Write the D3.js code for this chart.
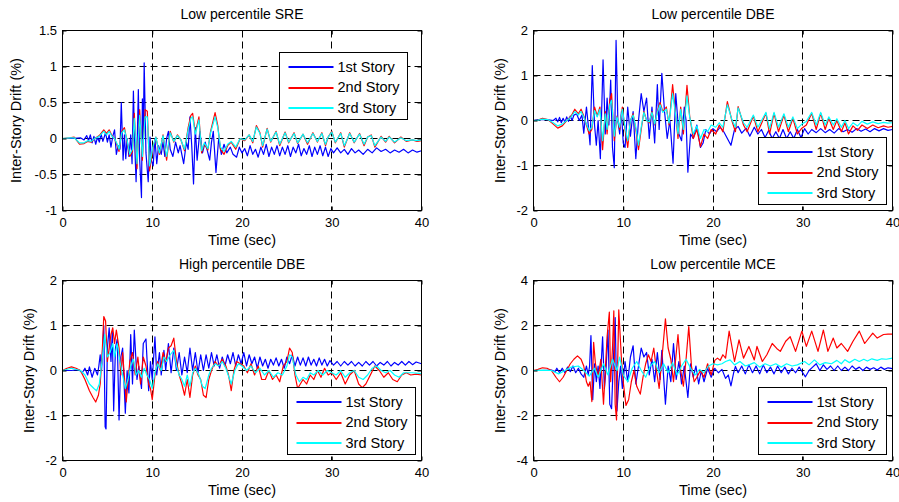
<!DOCTYPE html>
<html>
<head>
<meta charset="utf-8">
<script src="https://cdn.jsdelivr.net/npm/d3@7"></script>
<style>
  html, body { margin: 0; padding: 0; background: #fff; }
  svg { display: block; font-family: "Liberation Sans", Arial, sans-serif; }
</style>
</head>
<body>
<svg id="chart" width="899" height="502"></svg>
<script>
// ---------------- DATA ----------------
const xTicks = [0, 10, 20, 30, 40];
const seriesNames = ["1st Story", "2nd Story", "3rd Story"];
const titles = ["Low percentile SRE", "Low percentile DBE", "High percentile DBE", "Low percentile MCE"];
const sreTicks = [-1, -0.5, 0, 0.5, 1, 1.5];
const dbeLoTicks = [-2, -1, 0, 1, 2];
const dbeHiTicks = [-2, -1, 0, 1, 2];
const mceTicks = [-4, -2, 0, 2, 4];

// Low percentile SRE  ([time s, drift %])
const sreS1 = [[0,0],[1,0],[2,0.01],[2.4,-0.02],[2.7,0.04],[2.9,-0.03],[3.1,0.05],[3.3,-0.06],[3.5,0.03],[3.7,-0.08],[3.9,0.02],[4.1,-0.05],[4.3,0.06],[4.5,-0.04],[4.8,0.08],[5.0,-0.05],[5.2,0.05],[5.4,-0.12],[5.6,0.03],[5.8,0.12],[6.0,-0.22],[6.2,-0.1],[6.4,-0.15],[6.55,0.5],[6.75,-0.3],[6.9,0.05],[7.05,-0.28],[7.2,0.0],[7.4,-0.25],[7.6,0.05],[7.75,-0.35],[7.9,0.66],[8.05,-0.1],[8.2,-0.6],[8.35,0.1],[8.45,0.68],[8.6,-0.3],[8.8,-0.82],[8.9,0.55],[9.0,0.0],[9.1,1.05],[9.3,-0.2],[9.55,-0.6],[9.75,0.02],[9.9,-0.3],[10.1,-0.38],[10.3,0.0],[10.5,-0.35],[10.7,-0.1],[11.0,-0.22],[11.2,-0.05],[11.4,-0.25],[11.6,0.0],[11.8,0.1],[12.0,-0.15],[12.3,-0.25],[12.6,-0.05],[12.9,-0.2],[13.1,-0.1],[13.5,-0.35],[13.8,-0.05],[14.0,-0.15],[14.2,0.3],[14.4,-0.1],[14.6,-0.63],[14.8,0.15],[15.0,-0.3],[15.3,0.1],[15.6,-0.2],[15.9,-0.05],[16.1,-0.15],[16.4,-0.3],[16.6,-0.05],[16.8,0.1],[17.1,-0.47],[17.4,0.0],[17.7,-0.22],[18.0,-0.08],[18.3,-0.2],[18.7,-0.12],[19.0,-0.22],[19.4,-0.26],[19.7,-0.12],[20.0,-0.2],[20.3,-0.14],[20.6,-0.24],[20.9,-0.1],[21.2,-0.22],[21.5,-0.15],[21.8,-0.26],[22.1,-0.12],[22.4,-0.22],[22.7,-0.08],[23.0,-0.25],[23.3,-0.12],[23.6,-0.22],[23.9,-0.1],[24.2,-0.24],[24.5,-0.12],[24.8,-0.22],[25.1,-0.1],[25.4,-0.25],[25.7,-0.12],[26.0,-0.2],[26.3,-0.08],[26.6,-0.24],[26.9,-0.14],[27.2,-0.22],[27.5,-0.1],[27.8,-0.25],[28.1,-0.12],[28.4,-0.22],[28.7,-0.1],[29.0,-0.24],[29.3,-0.12],[29.6,-0.25],[29.9,-0.14],[30.2,-0.2],[30.6,-0.13],[31.0,-0.2],[31.4,-0.15],[31.8,-0.22],[32.2,-0.14],[32.6,-0.2],[33.0,-0.16],[33.5,-0.22],[34.0,-0.15],[34.5,-0.2],[35.0,-0.13],[35.5,-0.18],[36.0,-0.15],[36.5,-0.2],[37.0,-0.16],[37.5,-0.19],[38.0,-0.15],[38.5,-0.2],[39.0,-0.16],[39.5,-0.19],[40,-0.17]];
const sreS2 = [[0,0],[0.8,0.01],[1.3,0.02],[1.9,-0.08],[2.4,-0.07],[2.8,-0.04],[3.2,-0.05],[3.6,0.0],[4.1,0.04],[4.6,0.12],[4.9,0.07],[5.2,0.12],[5.5,0.04],[5.8,0.0],[6.1,-0.1],[6.3,-0.18],[6.6,0.1],[6.9,0.15],[7.2,-0.05],[7.5,-0.25],[7.8,-0.18],[8.0,0.35],[8.3,-0.42],[8.6,0.4],[8.9,-0.3],[9.2,0.4],[9.45,0.38],[9.7,-0.45],[10.1,-0.12],[10.4,0.02],[10.8,-0.22],[11.2,0.05],[11.6,-0.3],[12.0,0.1],[12.4,-0.05],[12.8,0.05],[13.2,-0.02],[13.6,-0.17],[14.0,0.15],[14.3,0.32],[14.5,0.35],[14.8,0.08],[15.2,0.3],[15.5,-0.2],[15.8,-0.08],[16.2,-0.16],[16.5,0.1],[17.0,0.36],[17.3,0.18],[17.6,-0.15],[18.0,-0.22],[18.4,-0.1],[18.8,-0.05],[19.3,-0.15],[19.8,0.0],[20.3,-0.03],[20.8,0.05],[21.2,-0.06],[21.6,0.18],[22.0,0.08],[22.3,-0.12],[22.8,0.14],[23.2,-0.05],[23.8,0.1],[24.2,-0.1],[24.8,0.09],[25.2,-0.06],[25.8,0.08],[26.2,-0.07],[26.8,0.06],[27.3,-0.08],[27.9,0.08],[28.4,-0.05],[28.9,0.08],[29.3,-0.1],[29.6,0.02],[30.0,0.1],[30.4,-0.06],[31.0,0.08],[31.4,-0.12],[32.0,0.08],[32.5,-0.06],[33.1,0.07],[33.6,-0.1],[34.0,0.02],[34.4,0.05],[34.8,-0.12],[35.5,0.03],[36.0,-0.05],[36.4,0.03],[37.0,-0.06],[37.7,0.02],[38.3,-0.04],[39.0,-0.02],[39.5,-0.04],[40,-0.03]];
const sreS3 = [[0,0],[0.8,0.01],[1.3,0.01],[1.9,-0.06],[2.4,-0.06],[2.8,-0.03],[3.2,-0.04],[3.6,0.0],[4.1,0.03],[4.6,0.1],[4.9,0.05],[5.2,0.1],[5.5,0.03],[5.8,0.0],[6.1,-0.08],[6.3,-0.15],[6.6,0.08],[6.9,0.12],[7.2,-0.03],[7.5,-0.22],[7.8,-0.15],[8.0,0.28],[8.3,-0.35],[8.6,0.32],[8.9,-0.25],[9.2,0.3],[9.45,0.3],[9.7,-0.38],[10.1,-0.1],[10.4,0.02],[10.8,-0.2],[11.2,0.04],[11.6,-0.25],[12.0,0.08],[12.4,-0.04],[12.8,0.04],[13.2,-0.02],[13.6,-0.15],[14.0,0.12],[14.3,0.28],[14.5,0.3],[14.8,0.06],[15.2,0.26],[15.5,-0.17],[15.8,-0.06],[16.2,-0.14],[16.5,0.08],[17.0,0.3],[17.3,0.15],[17.6,-0.12],[18.0,-0.18],[18.4,-0.08],[18.8,-0.04],[19.3,-0.12],[19.8,0.0],[20.3,-0.02],[20.8,0.05],[21.2,-0.04],[21.6,0.16],[22.0,0.07],[22.3,-0.1],[22.8,0.13],[23.2,-0.04],[23.8,0.09],[24.2,-0.08],[24.8,0.08],[25.2,-0.05],[25.8,0.07],[26.2,-0.06],[26.8,0.06],[27.3,-0.06],[27.9,0.07],[28.4,-0.04],[28.9,0.07],[29.3,-0.08],[29.6,0.02],[30.0,0.09],[30.4,-0.05],[31.0,0.07],[31.4,-0.1],[32.0,0.07],[32.5,-0.05],[33.1,0.06],[33.6,-0.08],[34.0,0.02],[34.4,0.04],[34.8,-0.1],[35.5,0.02],[36.0,-0.04],[36.4,0.02],[37.0,-0.05],[37.7,0.01],[38.3,-0.03],[39.0,-0.02],[39.5,-0.03],[40,-0.02]];

// Low percentile DBE
const dbeLoS1 = [[0,0],[0.5,0.02],[1.5,0.02],[2.2,0.0],[2.5,0.05],[2.7,-0.03],[2.9,0.07],[3.1,-0.05],[3.3,0.05],[3.5,-0.04],[3.7,0.08],[3.9,-0.02],[4.1,0.1],[4.3,0.0],[4.5,0.12],[4.8,0.15],[5.1,0.0],[5.4,0.12],[5.6,-0.28],[5.9,0.3],[6.1,-0.1],[6.3,-0.54],[6.55,1.22],[6.8,-0.1],[7.0,-0.55],[7.2,0.0],[7.45,-0.85],[7.75,1.35],[8.0,-0.3],[8.2,0.5],[8.4,-0.1],[8.6,0.9],[8.8,-0.6],[9.0,-1.05],[9.2,1.78],[9.4,0.0],[9.6,-0.3],[9.8,0.2],[10.0,-0.5],[10.2,-0.6],[10.5,0.3],[10.8,-0.35],[11.1,0.2],[11.4,-0.85],[11.7,0.0],[12.0,0.6],[12.3,0.2],[12.6,0.5],[12.9,-0.4],[13.2,0.3],[13.5,-0.5],[13.8,0.8],[14.0,-0.2],[14.3,1.05],[14.6,0.2],[14.9,-0.4],[15.2,0.0],[15.55,-0.95],[15.85,0.6],[16.2,-0.3],[16.5,-0.45],[16.8,0.3],[17.0,0.0],[17.2,-1.15],[17.5,-0.3],[17.8,-0.4],[18.2,-0.1],[18.6,-0.6],[18.9,-0.5],[19.2,-0.2],[19.6,-0.3],[20.0,-0.18],[20.4,-0.25],[20.8,-0.15],[21.2,-0.25],[21.6,-0.4],[22.0,-0.55],[22.4,-0.2],[22.8,-0.13],[23.2,-0.28],[23.7,-0.17],[24.1,-0.35],[24.6,-0.15],[25.0,-0.3],[25.4,-0.2],[25.8,-0.38],[26.2,-0.22],[26.6,-0.4],[27.0,-0.25],[27.4,-0.4],[27.8,-0.2],[28.2,-0.4],[28.6,-0.25],[29.0,-0.4],[29.4,-0.2],[29.8,-0.38],[30.2,-0.18],[30.6,-0.3],[31.0,-0.2],[31.5,-0.27],[32.0,-0.18],[32.5,-0.27],[33.0,-0.2],[33.5,-0.28],[34.0,-0.18],[34.5,-0.25],[35.0,-0.2],[35.5,-0.26],[36.0,-0.18],[36.5,-0.24],[37.0,-0.19],[37.5,-0.25],[38.0,-0.18],[38.5,-0.23],[39.0,-0.18],[39.5,-0.22],[40,-0.2]];
const dbeLoS2 = [[0,0],[0.5,0.01],[1.0,0.05],[1.6,0.02],[2.2,-0.08],[2.7,-0.17],[3.2,-0.12],[3.7,0.0],[4.2,0.1],[4.6,0.25],[5.0,0.15],[5.3,0.25],[5.6,0.1],[5.9,-0.1],[6.2,-0.3],[6.5,-0.2],[6.8,0.3],[7.1,0.1],[7.4,0.3],[7.7,-0.65],[8.0,0.2],[8.2,-0.3],[8.5,0.45],[8.7,0.6],[9.0,-0.45],[9.3,0.1],[9.6,-0.2],[9.9,0.3],[10.2,-0.2],[10.5,-0.6],[10.8,0.0],[11.1,0.15],[11.4,-0.2],[11.7,-0.65],[12.0,-0.2],[12.3,0.2],[12.6,0.0],[12.9,-0.05],[13.2,0.2],[13.5,-0.1],[13.8,0.2],[14.1,0.4],[14.4,0.2],[14.8,0.3],[15.1,-0.1],[15.5,0.8],[15.8,0.2],[16.1,-0.4],[16.4,0.3],[16.7,-0.3],[17.1,0.78],[17.4,0.1],[17.8,-0.4],[18.2,-0.2],[18.6,-0.58],[19.0,-0.3],[19.4,-0.4],[19.8,-0.2],[20.3,-0.3],[20.7,-0.1],[21.1,-0.25],[21.6,0.42],[22.1,0.0],[22.5,-0.25],[22.8,0.31],[23.4,-0.1],[23.8,-0.25],[24.5,0.1],[25.0,-0.25],[25.9,0.16],[26.3,-0.3],[26.8,0.16],[27.3,-0.25],[27.9,0.12],[28.4,-0.25],[28.9,0.05],[29.4,-0.3],[29.9,-0.17],[30.4,-0.1],[31.0,0.16],[31.5,-0.2],[32.0,0.16],[32.5,-0.2],[32.9,0.05],[33.4,-0.2],[33.8,0.0],[34.3,-0.25],[34.7,-0.05],[35.1,-0.3],[35.6,-0.12],[36.1,-0.22],[36.6,-0.1],[37.2,-0.18],[37.8,-0.1],[38.4,-0.16],[39.0,-0.12],[39.5,-0.15],[40,-0.13]];
const dbeLoS3 = [[0,0],[0.5,0.01],[1.0,0.03],[1.6,0.02],[2.2,-0.05],[2.7,-0.12],[3.2,-0.08],[3.7,0.0],[4.2,0.08],[4.6,0.2],[5.0,0.12],[5.3,0.2],[5.6,0.08],[5.9,-0.08],[6.2,-0.22],[6.5,-0.15],[6.8,0.22],[7.1,0.08],[7.4,0.25],[7.7,-0.45],[8.0,0.15],[8.2,-0.2],[8.5,0.35],[8.7,0.45],[9.0,-0.35],[9.3,0.08],[9.6,-0.15],[9.9,0.25],[10.2,-0.15],[10.5,-0.45],[10.8,0.0],[11.1,0.12],[11.4,-0.15],[11.7,-0.55],[12.0,-0.15],[12.3,0.18],[12.6,0.0],[12.9,-0.03],[13.2,0.18],[13.5,-0.08],[13.8,0.18],[14.1,0.35],[14.4,0.18],[14.8,0.25],[15.1,-0.06],[15.5,0.6],[15.8,0.18],[16.1,-0.3],[16.4,0.25],[16.7,-0.2],[17.1,0.55],[17.4,0.08],[17.8,-0.3],[18.2,-0.12],[18.6,-0.4],[19.0,-0.2],[19.4,-0.25],[19.8,-0.1],[20.3,-0.15],[20.7,-0.05],[21.1,-0.15],[21.6,0.35],[22.1,0.02],[22.5,-0.15],[22.8,0.28],[23.4,-0.05],[23.8,-0.15],[24.5,0.12],[25.0,-0.15],[25.9,0.18],[26.3,-0.18],[26.8,0.18],[27.3,-0.15],[27.9,0.15],[28.4,-0.15],[28.9,0.08],[29.4,-0.18],[29.9,-0.08],[30.4,-0.02],[31.0,0.18],[31.5,-0.1],[32.0,0.18],[32.5,-0.1],[32.9,0.08],[33.4,-0.1],[33.8,0.04],[34.3,-0.15],[34.7,0.0],[35.1,-0.18],[35.6,-0.05],[36.1,-0.12],[36.6,-0.02],[37.2,-0.08],[37.8,-0.03],[38.4,-0.07],[39.0,-0.04],[39.5,-0.06],[40,-0.05]];

// High percentile DBE
const dbeHiS1 = [[0,0],[1.0,0.0],[1.8,0.02],[2.2,-0.05],[2.5,0.05],[2.8,-0.1],[3.0,0.08],[3.3,-0.15],[3.6,0.05],[3.9,-0.1],[4.05,0.1],[4.2,0.35],[4.35,0.0],[4.6,1.0],[4.75,-1.25],[4.85,-1.3],[5.0,0.5],[5.2,0.95],[5.4,0.2],[5.55,0.85],[5.7,-0.9],[5.9,0.5],[6.1,0.7],[6.3,-1.1],[6.5,0.3],[6.7,0.5],[7.0,-0.95],[7.2,0.0],[7.4,-0.5],[7.6,0.8],[7.8,-0.3],[8.0,0.9],[8.3,-0.2],[8.5,0.1],[8.8,-0.4],[9.0,0.6],[9.3,0.7],[9.6,-0.45],[9.8,0.2],[10.0,-0.2],[10.3,0.75],[10.5,-0.1],[10.8,0.4],[11.0,-0.1],[11.3,0.45],[11.5,0.0],[11.8,0.6],[12.1,-0.05],[12.4,0.5],[12.7,0.0],[13.0,0.4],[13.3,-0.1],[13.6,0.3],[13.9,-0.05],[14.2,0.5],[14.5,0.0],[14.8,0.4],[15.1,-0.05],[15.4,0.35],[15.7,0.0],[16.0,0.35],[16.3,0.05],[16.6,0.4],[16.9,0.1],[17.2,0.35],[17.5,0.05],[17.8,0.3],[18.1,0.1],[18.4,0.35],[18.7,0.15],[19.0,0.4],[19.3,0.1],[19.6,0.35],[19.9,0.15],[20.2,0.4],[20.5,0.1],[20.8,0.35],[21.1,0.15],[21.4,0.3],[21.7,0.05],[22.0,0.3],[22.3,0.1],[22.6,0.25],[22.9,0.05],[23.2,0.25],[23.5,0.12],[23.8,0.28],[24.1,0.1],[24.4,0.25],[24.7,0.05],[25.0,0.3],[25.3,0.15],[25.6,0.35],[25.9,0.1],[26.2,0.3],[26.5,0.12],[26.8,0.28],[27.1,0.1],[27.4,0.3],[27.7,0.12],[28.0,0.25],[28.3,0.1],[28.6,0.28],[28.9,0.12],[29.2,0.25],[29.5,0.1],[29.8,0.22],[30.2,0.12],[30.6,0.2],[31.0,0.1],[31.4,0.2],[31.8,0.12],[32.2,0.2],[32.6,0.1],[33.0,0.18],[33.4,0.1],[33.8,0.2],[34.2,0.12],[34.6,0.2],[35.0,0.1],[35.4,0.18],[35.8,0.12],[36.2,0.2],[36.6,0.1],[37.0,0.18],[37.4,0.12],[37.8,0.2],[38.2,0.12],[38.6,0.2],[39.0,0.13],[39.4,0.19],[40,0.15]];
const dbeHiS2 = [[0,0],[0.5,0.05],[1.0,0.08],[1.5,0.05],[2.0,0.0],[2.5,-0.2],[3.0,-0.45],[3.4,-0.6],[3.7,-0.7],[4.0,-0.55],[4.2,-0.3],[4.4,0.3],[4.6,1.2],[4.8,1.1],[5.0,0.2],[5.2,0.5],[5.4,0.8],[5.6,0.95],[5.8,0.6],[6.0,0.9],[6.3,0.5],[6.5,-0.1],[6.7,0.4],[7.1,-0.7],[7.5,0.2],[7.8,0.4],[8.1,-0.1],[8.4,0.3],[8.7,-0.3],[9.0,0.3],[9.3,0.1],[9.6,-0.3],[9.8,-0.4],[10.0,-0.65],[10.3,-0.1],[10.6,0.2],[10.9,0.0],[11.2,0.4],[11.5,0.2],[11.8,0.5],[12.1,0.55],[12.4,0.72],[12.7,0.2],[13.0,-0.1],[13.3,-0.3],[13.6,-0.55],[13.9,-0.2],[14.2,-0.6],[14.5,-0.1],[14.8,0.1],[15.1,-0.1],[15.4,-0.2],[15.7,-0.55],[16.0,-0.6],[16.3,-0.2],[16.6,0.0],[17.0,0.2],[17.4,0.1],[17.8,0.25],[18.2,0.1],[18.5,-0.1],[18.8,-0.45],[19.1,0.0],[19.4,0.2],[19.8,0.15],[20.2,0.1],[20.6,-0.05],[21.0,0.15],[21.4,-0.1],[21.8,0.1],[22.2,-0.2],[22.6,-0.2],[23.0,0.0],[23.4,-0.2],[23.8,-0.1],[24.2,-0.25],[24.6,0.1],[25.0,0.2],[25.3,0.5],[25.6,0.4],[25.9,-0.1],[26.2,-0.4],[26.5,-0.3],[26.8,-0.2],[27.2,-0.3],[27.6,-0.1],[28.0,-0.2],[28.4,0.0],[28.8,-0.15],[29.2,0.05],[29.6,-0.1],[30.0,-0.05],[30.5,-0.2],[31.0,-0.05],[31.5,-0.3],[32.0,-0.1],[32.5,0.0],[33.0,-0.3],[33.4,-0.38],[33.8,-0.3],[34.3,-0.1],[34.8,0.1],[35.3,0.0],[35.8,-0.15],[36.3,-0.05],[36.8,-0.2],[37.3,-0.25],[37.8,-0.1],[38.3,-0.05],[38.8,-0.1],[39.4,-0.08],[40,-0.1]];
const dbeHiS3 = [[0,0],[1.0,0.05],[2.0,0.0],[2.5,-0.1],[3.0,-0.3],[3.5,-0.4],[3.8,-0.45],[4.1,-0.3],[4.4,0.2],[4.7,0.8],[5.0,0.3],[5.3,0.4],[5.6,0.6],[5.8,0.3],[6.1,0.6],[6.4,0.2],[6.7,-0.1],[7.0,-0.4],[7.3,-0.2],[7.6,0.1],[7.9,0.25],[8.2,-0.1],[8.5,0.0],[8.8,-0.15],[9.1,0.05],[9.4,-0.1],[9.7,-0.2],[10.0,-0.4],[10.3,-0.05],[10.6,0.15],[11.0,0.0],[11.3,0.3],[11.6,0.2],[12.0,0.35],[12.4,0.45],[12.7,0.1],[13.0,-0.1],[13.3,-0.2],[13.6,-0.35],[13.9,-0.1],[14.2,-0.35],[14.5,-0.05],[14.8,0.05],[15.2,-0.1],[15.6,-0.35],[15.9,-0.4],[16.3,-0.1],[16.6,0.05],[17.0,0.15],[17.4,0.1],[17.8,0.2],[18.2,0.05],[18.8,-0.3],[19.2,0.0],[19.6,0.15],[20.0,0.1],[20.5,0.0],[21.0,0.1],[21.5,-0.05],[22.0,0.05],[22.5,-0.1],[23.0,0.0],[23.5,-0.15],[24.0,-0.05],[24.5,-0.1],[25.0,0.1],[25.3,0.35],[25.6,0.3],[26.0,-0.1],[26.4,-0.25],[26.8,-0.15],[27.2,-0.2],[27.6,-0.05],[28.0,-0.1],[28.5,0.0],[29.0,-0.1],[29.5,0.0],[30.0,-0.05],[30.5,-0.1],[31.0,0.0],[31.5,-0.15],[32.0,-0.05],[32.5,0.0],[33.0,-0.15],[33.5,-0.2],[34.0,-0.1],[34.5,0.05],[35.0,0.1],[35.5,0.0],[36.0,-0.05],[36.5,0.0],[37.0,-0.1],[37.5,-0.15],[38.0,-0.05],[39.0,-0.05],[40,-0.07]];

// Low percentile MCE
const mceS1 = [[0,0],[1.0,0.0],[2.0,0.02],[2.4,-0.05],[2.6,0.1],[2.9,-0.1],[3.2,0.1],[3.5,-0.1],[3.8,0.15],[4.1,-0.05],[4.4,0.2],[4.7,-0.1],[5.0,0.1],[5.3,-0.15],[5.6,-0.3],[5.9,0.2],[6.1,-0.2],[6.25,0.2],[6.4,1.55],[6.6,-1.3],[6.8,0.3],[7.0,-0.5],[7.2,0.2],[7.4,-0.8],[7.7,1.5],[7.9,-0.8],[8.1,0.2],[8.3,1.8],[8.5,-1.5],[8.7,-1.7],[8.9,0.5],[9.1,2.35],[9.3,-1.8],[9.5,-0.5],[9.7,0.2],[9.9,-0.8],[10.2,0.4],[10.5,-0.5],[10.8,0.6],[11.1,1.1],[11.4,-0.6],[11.7,0.2],[12.0,1.0],[12.3,0.6],[12.6,0.8],[12.9,-0.2],[13.2,0.5],[13.5,-0.5],[13.8,0.8],[14.1,-0.4],[14.3,0.9],[14.7,-1.5],[15.0,0.2],[15.3,-0.5],[15.6,1.2],[15.9,-0.4],[16.2,0.4],[16.5,-0.6],[16.8,0.2],[17.2,-1.2],[17.5,0.3],[17.8,-0.3],[18.1,0.2],[18.4,-0.6],[18.7,0.0],[19.0,-0.5],[19.4,0.1],[19.8,-0.3],[20.2,0.1],[20.6,-0.1],[21.0,0.05],[21.4,-0.35],[21.7,-0.2],[22.0,-0.68],[22.3,-0.1],[22.5,0.18],[22.8,-0.1],[23.2,0.2],[23.6,-0.15],[24.0,0.25],[24.4,-0.1],[24.8,0.2],[25.2,-0.15],[25.6,0.25],[26.0,-0.1],[26.4,0.15],[26.8,-0.15],[27.2,0.2],[27.6,-0.1],[28.0,0.15],[28.4,-0.15],[28.8,0.1],[29.2,-0.1],[29.6,0.15],[30.0,-0.1],[30.3,-0.28],[30.7,0.0],[31.1,0.15],[31.5,0.3],[31.9,0.0],[32.3,0.25],[32.7,0.05],[33.1,0.2],[33.5,0.0],[33.9,0.2],[34.3,0.0],[34.7,0.15],[35.1,0.0],[35.5,0.2],[35.9,0.05],[36.3,0.15],[36.7,0.0],[37.1,0.15],[37.5,0.05],[37.9,0.12],[38.3,0.02],[38.7,0.15],[39.1,0.05],[39.5,0.12],[40,0.08]];
const mceS2 = [[0,0],[0.5,0.05],[1.0,0.12],[1.5,0.1],[2.0,0.0],[2.5,-0.3],[2.9,-0.5],[3.3,-0.3],[3.7,0.0],[4.1,0.3],[4.5,0.5],[4.9,0.65],[5.3,0.5],[5.6,0.2],[5.9,-0.5],[6.1,-0.7],[6.3,-0.5],[6.5,-1.38],[6.7,1.25],[6.9,0.3],[7.2,-0.3],[7.5,0.5],[7.8,-1.5],[8.0,0.0],[8.2,1.5],[8.45,2.6],[8.6,-0.5],[8.8,1.0],[8.95,2.65],[9.1,-1.5],[9.25,-2.2],[9.5,2.7],[9.8,0.5],[10.0,-0.5],[10.3,-1.55],[10.6,-1.3],[10.9,-0.5],[11.2,0.0],[11.5,-0.7],[11.9,-1.05],[12.2,-0.3],[12.5,0.3],[12.8,0.7],[13.1,0.4],[13.4,1.0],[13.7,0.0],[14.0,-0.8],[14.3,0.5],[14.7,2.3],[15.0,1.0],[15.3,0.5],[15.6,-0.5],[16.1,1.6],[16.4,0.0],[16.7,-0.7],[17.0,0.5],[17.3,1.95],[17.6,0.2],[17.9,-0.5],[18.2,-0.3],[18.6,0.0],[19.0,-0.3],[19.4,0.3],[19.8,-0.2],[20.2,0.45],[20.5,0.55],[20.8,0.45],[21.1,0.7],[21.4,0.55],[21.8,1.75],[22.4,0.4],[22.9,1.36],[23.4,0.55],[24.0,1.07],[24.6,0.47],[24.9,1.07],[25.5,0.4],[26.0,0.7],[26.6,1.2],[27.1,0.98],[27.5,0.85],[28.1,1.3],[28.6,1.5],[29.2,0.85],[29.9,1.75],[30.4,1.07],[31.0,1.75],[31.7,0.85],[32.3,1.8],[32.8,0.85],[33.4,1.44],[33.8,1.0],[34.3,1.2],[35.0,0.85],[35.6,1.3],[36.3,1.75],[36.9,1.2],[37.8,1.66],[38.3,1.44],[39.0,1.6],[39.5,1.62],[40,1.62]];
const mceS3 = [[0,0],[1.0,0.02],[2.0,0.0],[2.8,-0.15],[3.5,0.0],[4.2,0.15],[5.0,0.2],[5.6,0.0],[6.2,-0.25],[6.8,0.1],[7.2,-0.3],[7.8,0.3],[8.3,-0.2],[8.8,0.5],[9.3,0.0],[9.6,0.6],[10.0,-0.2],[10.5,-0.5],[11.0,0.1],[11.5,0.4],[12.0,0.0],[12.5,-0.3],[13.0,0.2],[13.5,0.4],[14.0,-0.1],[14.5,0.3],[15.0,-0.1],[15.5,0.35],[16.0,-0.2],[16.5,0.2],[17.0,0.5],[17.5,0.1],[18.0,-0.2],[18.5,0.05],[19.0,-0.1],[19.5,0.2],[20.0,0.3],[20.5,0.25],[21.0,0.3],[21.4,0.4],[21.9,0.47],[22.4,0.25],[23.0,0.4],[23.6,0.2],[24.0,0.25],[24.6,0.35],[25.2,0.15],[25.8,0.3],[26.4,0.2],[27.0,0.3],[27.6,0.15],[28.2,0.3],[28.8,0.2],[29.4,0.25],[30.2,0.4],[30.7,0.25],[31.3,0.47],[31.9,0.25],[32.5,0.35],[33.2,0.3],[33.8,0.45],[34.3,0.3],[34.7,0.48],[35.2,0.35],[35.8,0.5],[36.3,0.4],[36.8,0.5],[37.2,0.42],[37.7,0.52],[38.3,0.45],[38.8,0.52],[39.3,0.5],[40,0.55]];

// ---------------- DRAWING ----------------
const colors = ["#0000ff", "#ff0000", "#00ffff"];
const svg = d3.select("#chart");
const PW = 359, PH = 180;
const crisp = v => Math.round(v - 0.5) + 0.5;

const panels = [
  { left: 62.5, top: 30.5, title: titles[0], ticks: sreTicks, series: [sreS1, sreS2, sreS3], legend: "ne", ylab: -41.5 },
  { left: 533.5, top: 30.5, title: titles[1], ticks: dbeLoTicks, series: [dbeLoS1, dbeLoS2, dbeLoS3], legend: "se", ylab: -29 },
  { left: 62.5, top: 280.5, title: titles[2], ticks: dbeHiTicks, series: [dbeHiS1, dbeHiS2, dbeHiS3], legend: "se", ylab: -29 },
  { left: 533.5, top: 280.5, title: titles[3], ticks: mceTicks, series: [mceS1, mceS2, mceS3], legend: "se", ylab: -29 }
];

panels.forEach((p, i) => {
  const x = d3.scaleLinear().domain([0, 40]).range([p.left, p.left + PW]);
  const y = d3.scaleLinear().domain(d3.extent(p.ticks)).range([p.top + PH, p.top]);
  const g = svg.append("g");

  // grid
  g.selectAll(".vg").data(xTicks.slice(1, -1)).enter().append("line")
    .attr("x1", d => crisp(x(d))).attr("x2", d => crisp(x(d))).attr("y1", p.top).attr("y2", p.top + PH)
    .attr("stroke", "#000").attr("stroke-width", 1).attr("stroke-dasharray", "7,4");
  g.selectAll(".hg").data(p.ticks.slice(1, -1)).enter().append("line")
    .attr("x1", p.left).attr("x2", p.left + PW).attr("y1", d => crisp(y(d))).attr("y2", d => crisp(y(d)))
    .attr("stroke", "#000").attr("stroke-width", 1).attr("stroke-dasharray", "7,4");

  // clip
  const cid = "clip" + i;
  svg.append("clipPath").attr("id", cid).append("rect")
    .attr("x", p.left).attr("y", p.top).attr("width", PW).attr("height", PH);

  const line = d3.line().x(d => x(d[0])).y(d => y(d[1]));
  const lg = g.append("g").attr("clip-path", `url(#${cid})`);
  p.series.forEach((s, k) => {
    lg.append("path").datum(s).attr("d", line).attr("fill", "none")
      .attr("stroke", colors[k]).attr("stroke-width", 1.2).attr("stroke-linejoin", "round");
  });

  // axes
  const fmt = d => String(d);
  const ax = g.append("g").attr("transform", `translate(0,${p.top + PH})`)
    .call(d3.axisBottom(x).tickValues(xTicks).tickFormat(fmt).tickSizeInner(-4).tickSizeOuter(0).tickPadding(7.5));
  const ay = g.append("g").attr("transform", `translate(${p.left},0)`)
    .call(d3.axisLeft(y).tickValues(p.ticks).tickFormat(fmt).tickSizeInner(-4).tickSizeOuter(0).tickPadding(5.5));
  const at = g.append("g").attr("transform", `translate(0,${p.top})`)
    .call(d3.axisTop(x).tickValues(xTicks).tickFormat("").tickSizeInner(-4).tickSizeOuter(0));
  const ar = g.append("g").attr("transform", `translate(${p.left + PW},0)`)
    .call(d3.axisRight(y).tickValues(p.ticks).tickFormat("").tickSizeInner(-4).tickSizeOuter(0));
  [ax, ay, at, ar].forEach(a => {
    a.select(".domain").remove();
    a.selectAll("text").attr("font-size", 13).attr("fill", "#000").attr("font-family", "Liberation Sans, Arial, sans-serif");
    a.selectAll("line").attr("stroke", "#000");
  });

  // frame
  g.append("rect").attr("x", p.left).attr("y", p.top).attr("width", PW).attr("height", PH)
    .attr("fill", "none").attr("stroke", "#000").attr("stroke-width", 1);

  // titles & labels
  g.append("text").attr("x", p.left + PW / 2).attr("y", p.top - 12).attr("text-anchor", "middle")
    .attr("font-size", 14).text(p.title);
  g.append("text").attr("x", p.left + PW / 2).attr("y", p.top + PH + 34).attr("text-anchor", "middle")
    .attr("font-size", 14.5).text("Time (sec)");
  g.append("text").attr("transform", `translate(${p.left + p.ylab},${p.top + PH / 2}) rotate(-90)`)
    .attr("text-anchor", "middle").attr("font-size", 14.5).text("Inter-Story Drift (%)");

  // legend
  const LW = 128, LH = 67;
  const lx = Math.round(p.legend === "ne" ? p.left + PW - 15 - LW : p.left + PW - 7 - LW) + 0.5;
  const ly = Math.round(p.legend === "ne" ? p.top + 21 : p.top + PH - 6.5 - LH) + 0.5;
  const leg = g.append("g").attr("transform", `translate(${lx},${ly})`);
  leg.append("rect").attr("width", LW).attr("height", LH).attr("fill", "#fff").attr("stroke", "#000").attr("stroke-width", 1);
  seriesNames.forEach((n, k) => {
    const yy = 14 + k * 20.5;
    leg.append("line").attr("x1", 9).attr("x2", 54).attr("y1", Math.round(yy) + 0.5).attr("y2", Math.round(yy) + 0.5)
      .attr("stroke", colors[k]).attr("stroke-width", 2);
    leg.append("text").attr("x", 58).attr("y", yy + 5).attr("font-size", 14.5).text(n);
  });
});
</script>
</body>
</html>
